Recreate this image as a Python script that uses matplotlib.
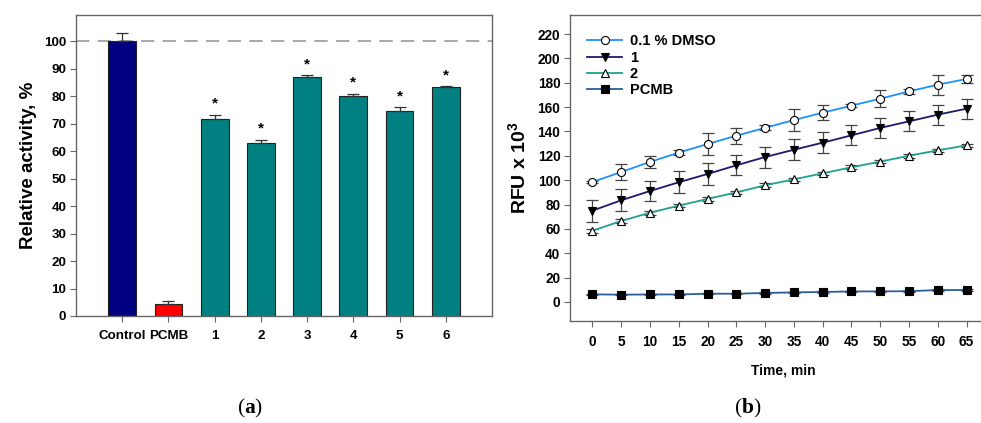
import matplotlib
matplotlib.use("Agg")
import matplotlib.pyplot as plt
import numpy as np

plt.rcParams["font.family"] = ["Liberation Sans", "DejaVu Sans"]
plt.rcParams["font.weight"] = "bold"
plt.rcParams["mathtext.fontset"] = "custom"
plt.rcParams["mathtext.bf"] = "Liberation Serif:bold"
plt.rcParams["mathtext.rm"] = "Liberation Sans:bold"

# (a) relative activity
bar_labels = ["Control", "PCMB", "1", "2", "3", "4", "5", "6"]
bar_values = [100.0, 4.5, 71.8, 63.0, 86.8, 80.0, 74.4, 83.3]
bar_errors = [2.8, 1.0, 1.3, 1.2, 0.7, 0.8, 1.5, 0.3]
bar_colors = ["#000080", "#ff0000"] + ["#008080"] * 6
bar_star = [False, False, True, True, True, True, True, True]

# (b) kinetics
time_min = [0, 5, 10, 15, 20, 25, 30, 35, 40, 45, 50, 55, 60, 65]
dmso = [98.5, 106.7, 115.0, 122.6, 129.7, 136.5, 143.0, 149.4, 155.4, 161.2, 166.9, 172.9, 178.4, 183.1]
dmso_err = [1.0, 6.8, 5.0, 2.0, 9.4, 6.5, 2.0, 9.0, 6.0, 1.0, 7.0, 2.0, 8.3, 3.0]
cmp1 = [75.0, 83.5, 91.1, 98.3, 105.1, 112.2, 119.0, 125.0, 130.8, 136.8, 142.9, 148.3, 153.8, 158.7]
cmp1_err = [9.0, 9.2, 8.6, 8.9, 8.8, 8.3, 8.6, 8.8, 8.6, 8.2, 8.1, 8.3, 8.3, 8.2]
cmp2 = [58.5, 66.5, 73.3, 79.1, 84.6, 90.0, 95.8, 100.7, 105.6, 110.6, 115.2, 120.1, 124.5, 128.6]
cmp2_err = [1.5, 1.5, 1.5, 1.5, 1.5, 1.5, 1.5, 1.5, 1.5, 1.5, 1.5, 1.5, 1.5, 1.5]
pcmb = [6.3, 6.0, 6.2, 6.2, 6.8, 6.8, 7.4, 7.9, 8.2, 8.7, 8.7, 8.9, 9.8, 9.8]
pcmb_err = [0.5] * 14

spine_col = "#666666"

fig = plt.figure(figsize=(9.81, 4.23), dpi=100)

# ---- panel (a)
ax1 = fig.add_axes([76 / 981, 1 - 316 / 423, 416 / 981, 301 / 423])
x = np.arange(len(bar_labels))
ax1.axhline(100, color="#999999", lw=1.2, dashes=(8, 5), zorder=0)
ax1.bar(x, bar_values, width=0.6, color=bar_colors, edgecolor="#222222", lw=0.8, zorder=2)
ax1.errorbar(x, bar_values, yerr=[np.zeros(len(x)), bar_errors], fmt="none",
             ecolor="#333333", elinewidth=0.9, capsize=4, capthick=0.9, zorder=3)
for xi, v, e, s in zip(x, bar_values, bar_errors, bar_star):
    if s:
        ax1.text(xi, v + e + 1.5, "*", ha="center", va="bottom", fontsize=11, fontweight="bold")
ax1.set_xlim(-1, 8)
ax1.set_ylim(0, 109.5)
ax1.set_yticks(np.arange(0, 101, 10))
ax1.set_xticks(x)
ax1.set_xticklabels(bar_labels)
ax1.tick_params(axis="both", direction="out", length=4, width=0.8, color=spine_col,
                labelsize=9.6, pad=3)
ax1.tick_params(axis="x", pad=6)
ax1.set_ylabel("Relative activity, %", fontsize=13.5, fontweight="bold", labelpad=5)
for sp in ax1.spines.values():
    sp.set_color(spine_col)
    sp.set_linewidth(1.0)

# ---- panel (b)
ax2 = fig.add_axes([570 / 981, 1 - 321 / 423, 430 / 981, 306 / 423])
series = [
    ("0.1 % DMSO", dmso, dmso_err, "#1e90ff", "o", "white"),
    ("1", cmp1, cmp1_err, "#1a1a6e", "v", "black"),
    ("2", cmp2, cmp2_err, "#20a090", "^", "white"),
    ("PCMB", pcmb, pcmb_err, "#2a5e9a", "s", "black"),
]
for name, y, err, col, mk, fc in series:
    ax2.errorbar(time_min, y, yerr=err, fmt="none", ecolor="#444444",
                 elinewidth=0.9, capsize=4, capthick=0.9, zorder=2)
    ax2.plot(time_min, y, color=col, lw=1.3, marker=mk, markersize=5.8,
             markerfacecolor=fc, markeredgecolor="black", markeredgewidth=0.8,
             label=name, zorder=3)
ax2.set_xlim(-3.9, 70.8)
ax2.set_ylim(-15.6, 235.6)
ax2.set_xticks(time_min)
ax2.set_yticks(np.arange(0, 221, 20))
ax2.tick_params(axis="both", direction="out", length=4, width=0.8, color=spine_col,
                labelsize=9.8, pad=3)
ax2.tick_params(axis="x", pad=6)
ax2.set_ylabel(r"RFU x 10$^3$", fontsize=14, fontweight="bold", labelpad=5)
ax2.spines["right"].set_visible(False)
for sp in ax2.spines.values():
    sp.set_color(spine_col)
    sp.set_linewidth(1.0)
leg = ax2.legend(loc="upper left", bbox_to_anchor=(0.02, 0.965), frameon=False,
                 fontsize=10.5, handlelength=2.4, handletextpad=0.5,
                 labelspacing=0.15, borderaxespad=0.2)

fig.text(783 / 981, 1 - 370 / 423, "Time, min", ha="center", va="center",
         fontsize=10, fontweight="bold", family=["Liberation Sans Narrow", "Liberation Sans"])

fig.text(250 / 981, 1 - 408 / 423, r"($\mathbf{a}$)", ha="center", va="center",
         fontsize=15.5, fontweight="normal", family="Liberation Serif")
fig.text(748 / 981, 1 - 408 / 423, r"($\mathbf{b}$)", ha="center", va="center",
         fontsize=15.5, fontweight="normal", family="Liberation Serif")

fig.savefig("out.png", dpi=100)
